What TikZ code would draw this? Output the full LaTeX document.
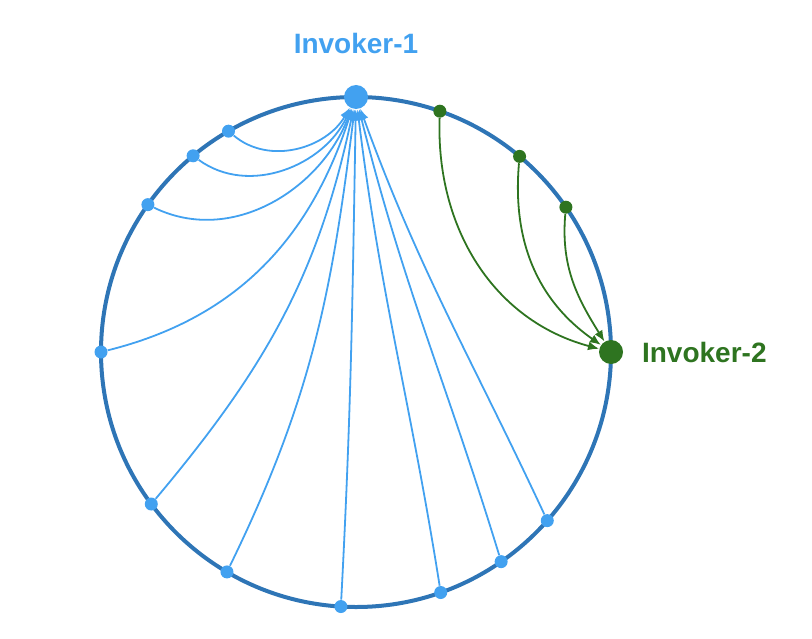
\documentclass[tikz,border=0pt]{standalone}
\usepackage{fontspec}
\setmainfont{Liberation Sans}
\usetikzlibrary{arrows.meta}
\definecolor{anillo}{HTML}{2E75B6}
\definecolor{azul}{HTML}{42A1F0}
\definecolor{verde}{HTML}{2E7420}

\begin{document}
\begin{tikzpicture}[x=0.5pt,y=0.5pt,
    punto/.style={circle,fill=#1,inner sep=0pt,minimum size=6.5pt},
    invoker/.style={circle,fill=#1,inner sep=0pt,minimum size=12pt},
    etiqueta/.style={#1,font=\bfseries\fontsize{14}{16}\selectfont},
    flecha/.style={->,>={Latex[length=5.5pt,width=4.5pt]},line width=0.9pt,#1}]
    \useasboundingbox (0,0) rectangle (812,638);

    % Anillo
    \coordinate (C) at (356,286);
    \draw[anillo,line width=2pt] (C) circle (255);

    % Invokers
    \node[invoker=azul] (inv1) at ([shift={(90:255)}]C) {};
    \node[invoker=verde] (inv2) at ([shift={(0:255)}]C) {};
    \node[etiqueta=azul] (t1) at (356,595) {Invoker-1};
    \node[etiqueta=verde,anchor=west] (t2) at (635,286) {Invoker-2};

    % Nodos azules
    \foreach \a [count=\i] in {120,129.7,144.7,180,216.6,239.6,266.6,289.4,304.7,318.6} {
        \node[punto=azul] (b\i) at ([shift={(\a:255)}]C) {};
    }

    % Nodos verdes
    \foreach \a [count=\i] in {70.8,50.1,34.6} {
        \node[punto=verde] (g\i) at ([shift={(\a:255)}]C) {};
    }

    % Flechas hacia Invoker-1
    \foreach \i/\o/\t in {1/-40/-120,2/-36/-115,3/-26/-111,4/14/-108,5/50/-102,
                          6/64/-97,7/87/-91,8/99/-83,9/107/-76,10/115/-70} {
        \draw[flecha=azul] (b\i) to[out=\o,in=\t] (inv1);
    }

    % Flechas hacia Invoker-2
    \foreach \i/\o/\t in {1/-92/165,2/-95/145,3/-95/122} {
        \draw[flecha=verde] (g\i) to[out=\o,in=\t] (inv2);
    }
\end{tikzpicture}
\end{document}
